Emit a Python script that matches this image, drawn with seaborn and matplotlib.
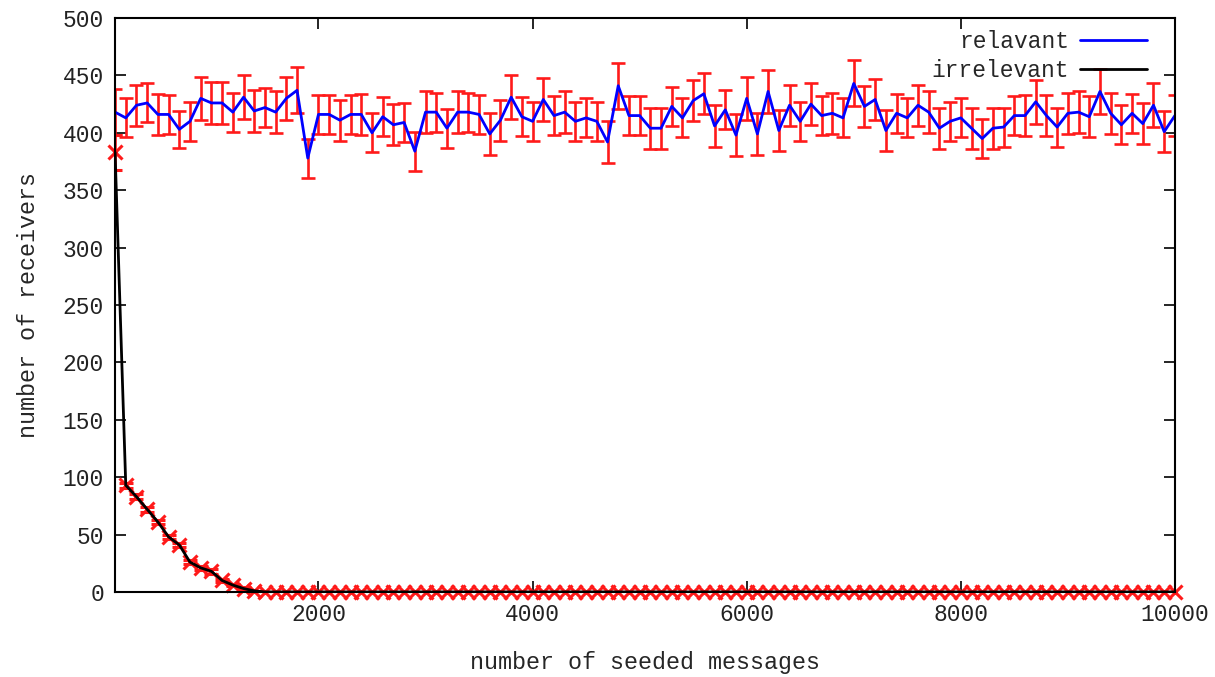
import numpy as np
import pandas as pd
import matplotlib
matplotlib.use("Agg")
import matplotlib.pyplot as plt
import seaborn as sns
from matplotlib.lines import Line2D

sns.set_theme(style="white")
plt.rcParams['font.family'] = ['Liberation Mono', 'DejaVu Sans Mono']

# ---- data ----
seeded = list(range(100, 10001, 100))

relevant = [418, 413, 424, 426, 416, 416, 403, 410, 430, 426,
            426, 418, 431, 419, 422, 418, 430, 437, 378, 416,
            416, 411, 416, 416, 400, 414, 407, 409, 384, 418,
            418, 404, 418, 418, 416, 399, 411, 431, 414, 410,
            429, 415, 418, 410, 413, 410, 392, 441, 415, 415,
            404, 404, 423, 413, 428, 434, 406, 420, 398, 430,
            399, 436, 402, 424, 410, 425, 415, 417, 413, 443,
            423, 429, 402, 417, 413, 424, 418, 404, 410, 413,
            404, 395, 404, 405, 415, 415, 427, 415, 405, 417,
            418, 414, 436, 417, 407, 417, 408, 424, 401, 415]

relevant_err = [20, 17, 18, 17, 18, 17, 16, 17, 19, 18,
                18, 17, 19, 18, 17, 18, 19, 20, 17, 17,
                17, 18, 17, 18, 17, 17, 18, 17, 17, 18,
                17, 17, 18, 17, 17, 18, 18, 19, 17, 17,
                19, 17, 18, 17, 17, 17, 18, 20, 17, 17,
                18, 18, 17, 17, 18, 18, 18, 17, 18, 19,
                18, 19, 18, 18, 17, 18, 17, 18, 17, 20,
                18, 18, 18, 17, 17, 18, 18, 18, 17, 17,
                18, 17, 18, 17, 17, 18, 19, 18, 17, 18,
                18, 18, 20, 18, 17, 17, 18, 19, 18, 18]

irrelevant = [383, 93, 83, 72, 61, 48, 41, 26, 21, 18,
              10, 6, 3, 1] + [0] * 86

irrelevant_err = [15, 2, 2, 2, 2, 2, 2, 2, 2, 2,
                  1, 1, 1, 0] + [0] * 86

legend_labels = ["relavant", "irrelevant"]
x_ticks = [2000, 4000, 6000, 8000, 10000]
y_ticks = list(range(0, 501, 50))

df = pd.DataFrame({"seeded": seeded, "relevant": relevant,
                   "relevant_err": relevant_err,
                   "irrelevant": irrelevant, "irrelevant_err": irrelevant_err})

fig = plt.figure(figsize=(12.15, 6.77), dpi=100)
ax = fig.add_axes([0.0947, 0.1256, 0.8723, 0.8478])

# relevant: red error bars + blue line
ax.errorbar(df["seeded"], df["relevant"], yerr=df["relevant_err"], fmt="none",
            ecolor="#ff1a1a", elinewidth=1.9, capsize=5, capthick=1.9, zorder=2)
sns.lineplot(data=df, x="seeded", y="relevant", ax=ax, color="#0000ff",
             linewidth=2, zorder=3)

# irrelevant: red x points with error bars + black line
eb = ax.errorbar(df["seeded"], df["irrelevant"], yerr=df["irrelevant_err"], fmt="x",
                 color="#ff1a1a", ecolor="#ff1a1a", markersize=10, mew=2.2,
                 elinewidth=1.9, capsize=5, capthick=1.9, zorder=4)
eb[0].set_clip_on(False)
sns.lineplot(data=df, x="seeded", y="irrelevant", ax=ax, color="black",
             linewidth=2, zorder=5)

ax.set_xlim(100, 10000)
ax.set_ylim(0, 500)
ax.set_xticks(x_ticks)
ax.set_yticks(y_ticks)
ax.set_xlabel("number of seeded messages", fontsize=16.8, labelpad=18)
ax.set_ylabel("number of receivers", fontsize=16.8, labelpad=16)
ax.tick_params(axis="both", which="both", direction="in", length=8, width=1.2,
               top=True, right=True, bottom=True, left=True,
               labelsize=16.5, colors="black", pad=8)
for tl in ax.get_xticklabels() + ax.get_yticklabels():
    tl.set_color("#222222")
for s in ax.spines.values():
    s.set_color("black")
    s.set_linewidth(1.5)
    s.set_zorder(6)

handles = [Line2D([0], [0], color="#0000ff", lw=2),
           Line2D([0], [0], color="black", lw=2)]
leg = ax.legend(handles, legend_labels, loc="upper right",
                bbox_to_anchor=(0.993, 1.015), frameon=False, markerfirst=False,
                fontsize=16.5, handlelength=2.9, labelspacing=0.25,
                handletextpad=0.5)

fig.savefig("out.png", dpi=100)
